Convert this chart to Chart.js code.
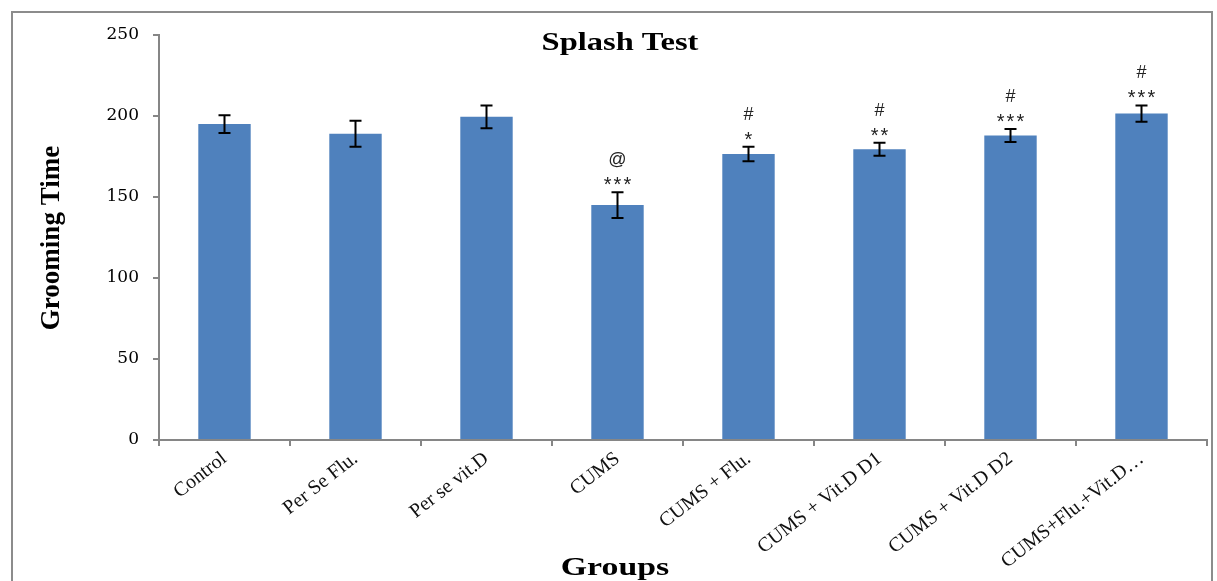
<!DOCTYPE html>
<html>
<head>
<meta charset="utf-8">
<script src="https://cdn.jsdelivr.net/npm/chart.js@4.4.1/dist/chart.umd.min.js"></script>
<style>
  body { margin: 0; background: #fff; }
  #wrap { position: relative; width: 1217px; height: 581px; }
</style>
</head>
<body>
<div id="wrap"><canvas id="splashChart" width="1217" height="581"></canvas></div>
<script>
// datos
const grupos = ['Control', 'Per Se Flu.', 'Per se vit.D', 'CUMS', 'CUMS + Flu.', 'CUMS + Vit.D D1', 'CUMS + Vit.D D2', 'CUMS+Flu.+Vit.D\u2026'];
const medias = [195, 189, 199.5, 145, 176.5, 179.5, 188, 201.5];
const errores = [5.5, 8, 7, 8, 4.5, 4, 4, 5];
const estrellas = ['', '', '', '***', '*', '**', '***', '***'];
const marcas = ['', '', '', '@', '#', '#', '#', '#'];
const yTicks = [0, 50, 100, 150, 200, 250];

const gris = '#868686';

// marco gris alrededor de todo
const marco = {
    id: 'marco',
    beforeDraw(chart) {
        const ctx = chart.ctx;
        ctx.save();
        ctx.fillStyle = '#fff';
        ctx.fillRect(0, 0, chart.width, chart.height);
        ctx.strokeStyle = '#8c8c8c';
        ctx.lineWidth = 2;
        ctx.strokeRect(12, 12, 1200, 600);
        ctx.restore();
    }
};

// barras de error + asteriscos
const barrasError = {
    id: 'barrasError',
    afterDatasetsDraw(chart) {
        const ctx = chart.ctx;
        const y = chart.scales.y;
        const meta = chart.getDatasetMeta(0);
        ctx.save();
        meta.data.forEach((bar, i) => {
            const arriba = y.getPixelForValue(medias[i] + errores[i]);
            const abajo = y.getPixelForValue(medias[i] - errores[i]);
            ctx.strokeStyle = '#000';
            ctx.lineWidth = 2;
            ctx.beginPath();
            ctx.moveTo(bar.x, arriba); ctx.lineTo(bar.x, abajo);
            ctx.moveTo(bar.x - 6, arriba); ctx.lineTo(bar.x + 6, arriba);
            ctx.moveTo(bar.x - 6, abajo); ctx.lineTo(bar.x + 6, abajo);
            ctx.stroke();

            ctx.fillStyle = '#222';
            ctx.textAlign = 'center';
            ctx.textBaseline = 'alphabetic';
            if (estrellas[i]) {
                ctx.font = '20px "Liberation Sans"';
                ctx.letterSpacing = '2px';
                ctx.fillText(estrellas[i], bar.x + 1, arriba - 1);
            }
            if (marcas[i]) {
                ctx.font = '18px "Liberation Sans"';
                ctx.letterSpacing = '0px';
                ctx.fillText(marcas[i], bar.x, arriba - 27);
            }
        });
        ctx.restore();
    }
};

// titulos
const textos = {
    id: 'textos',
    afterDraw(chart) {
        const ctx = chart.ctx;
        ctx.save();
        ctx.fillStyle = '#000';
        ctx.textAlign = 'center';
        ctx.textBaseline = 'middle';

        ctx.save();
        ctx.translate(620, 44);
        ctx.scale(1.3, 1);
        ctx.font = 'bold 25px "Liberation Serif"';
        ctx.fillText('Splash Test', 0, 0);
        ctx.restore();

        ctx.save();
        ctx.translate(615, 568);
        ctx.scale(1.3, 1);
        ctx.font = 'bold 26px "Liberation Serif"';
        ctx.fillText('Groups', 0, 0);
        ctx.restore();

        ctx.save();
        ctx.translate(52, 238);
        ctx.rotate(-Math.PI / 2);
        ctx.font = 'bold 27px "Liberation Serif"';
        ctx.fillText('Grooming Time', 0, 0);
        ctx.restore();

        ctx.restore();
    }
};

const ctx = document.getElementById('splashChart').getContext('2d');
const splashChart = new Chart(ctx, {
    type: 'bar',
    data: {
        labels: grupos,
        datasets: [{
            data: medias,
            backgroundColor: '#4f81bd',
            borderWidth: 0,
            barPercentage: 0.4,
            categoryPercentage: 1
        }]
    },
    options: {
        responsive: false,
        animation: false,
        devicePixelRatio: 1,
        layout: { padding: { left: 0, right: 10, top: 35, bottom: 0 } },
        plugins: {
            legend: { display: false },
            tooltip: { enabled: false }
        },
        scales: {
            x: {
                offset: true,
                grid: { drawOnChartArea: false, drawTicks: true, tickLength: 6, color: gris, lineWidth: 2, offset: true },
                border: { color: gris, width: 2 },
                ticks: {
                    minRotation: 38,
                    maxRotation: 38,
                    autoSkip: false,
                    color: '#111',
                    font: { family: 'Liberation Serif', size: 20 },
                    padding: 1
                },
                afterFit(scale) { scale.height = 141; }
            },
            y: {
                min: 0,
                max: 250,
                afterBuildTicks(scale) { scale.ticks = yTicks.map(v => ({ value: v })); },
                grid: { drawOnChartArea: false, drawTicks: true, tickLength: 6, color: gris, lineWidth: 2 },
                border: { color: gris, width: 2 },
                ticks: {
                    color: '#000',
                    font: { family: 'DejaVu Serif', size: 17 },
                    padding: 14
                },
                afterFit(scale) { scale.width = 159; }
            }
        }
    },
    plugins: [marco, barrasError, textos]
});
</script>
</body>
</html>
